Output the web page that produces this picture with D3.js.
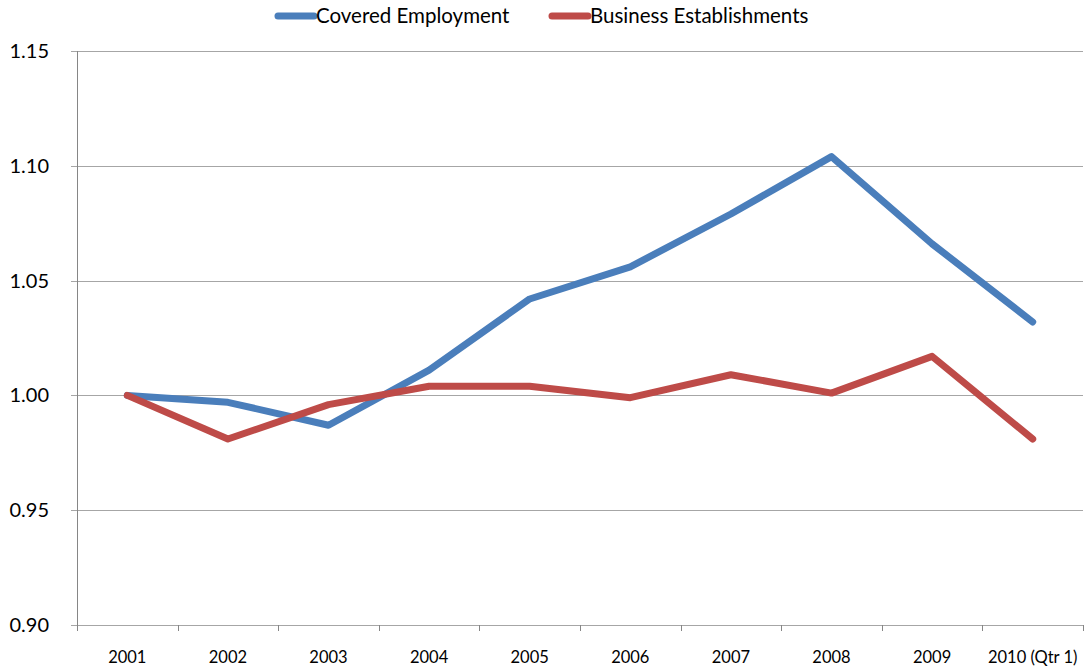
<!DOCTYPE html>
<html>
<head>
<meta charset="utf-8">
<script src="https://cdn.jsdelivr.net/npm/d3@7"></script>
<style>
  html, body { margin: 0; padding: 0; background: #fff; }
  svg text { font-family: Lato, "Open Sans", sans-serif; fill: #000; }
</style>
</head>
<body>
<svg id="chart" width="1084" height="668"></svg>
<script>
// Index values (2001 = 1.00)
const years = ["2001", "2002", "2003", "2004", "2005", "2006", "2007", "2008", "2009", "2010 (Qtr 1)"];
const coveredEmployment = [1.000, 0.997, 0.987, 1.011, 1.042, 1.056, 1.079, 1.104, 1.066, 1.032];
const businessEstablishments = [1.000, 0.981, 0.996, 1.004, 1.004, 0.999, 1.009, 1.001, 1.017, 0.981];
const yTicks = [0.90, 0.95, 1.00, 1.05, 1.10, 1.15];

const seriesNames = ["Covered Employment", "Business Establishments"];
const seriesColors = ["#4A7EBB", "#BE4B48"];

(function draw() {
  const svg = d3.select("#chart");
  const plotLeft = 77, plotRight = 1083, plotTop = 51, plotBottom = 625;

  const x = d3.scaleBand().domain(years).range([plotLeft, plotRight]).padding(0);
  const y = d3.scaleLinear().domain([0.90, 1.15]).range([plotBottom, plotTop]);

  // horizontal gridlines with short outward ticks
  svg.append("g")
    .selectAll("line")
    .data(yTicks)
    .join("line")
    .attr("x1", plotLeft - 6).attr("x2", plotRight)
    .attr("y1", d => Math.round(y(d)) + 0.5).attr("y2", d => Math.round(y(d)) + 0.5)
    .attr("stroke", "#A6A6A6").attr("stroke-width", 1);

  // y labels
  svg.append("g")
    .selectAll("text")
    .data(yTicks)
    .join("text")
    .attr("x", 49)
    .attr("y", d => y(d))
    .attr("dy", "0.35em")
    .attr("text-anchor", "end")
    .attr("font-size", 20)
    .text(d => d3.format(".2f")(d));

  // vertical axis line
  svg.append("line")
    .attr("x1", plotLeft + 0.5).attr("x2", plotLeft + 0.5)
    .attr("y1", plotTop).attr("y2", plotBottom)
    .attr("stroke", "#868686").attr("stroke-width", 1);

  // x axis: category boundary ticks
  const boundaries = years.map(d => x(d)).concat([plotRight]);
  svg.append("g")
    .selectAll("line")
    .data(boundaries)
    .join("line")
    .attr("x1", d => Math.round(d) + 0.5).attr("x2", d => Math.round(d) + 0.5)
    .attr("y1", plotBottom).attr("y2", plotBottom + 6)
    .attr("stroke", "#868686").attr("stroke-width", 1);

  svg.append("g")
    .selectAll("text")
    .data(years)
    .join("text")
    .attr("x", d => x(d) + x.bandwidth() / 2)
    .attr("y", 663)
    .attr("text-anchor", "middle")
    .attr("font-size", 16.5)
    .text(d => d);

  // series lines
  const line = d3.line()
    .x((d, i) => x(years[i]) + x.bandwidth() / 2)
    .y(d => y(d));

  [coveredEmployment, businessEstablishments].forEach((vals, k) => {
    svg.append("path")
      .datum(vals)
      .attr("d", line)
      .attr("fill", "none")
      .attr("stroke", seriesColors[k])
      .attr("stroke-width", 7)
      .attr("stroke-linejoin", "round")
      .attr("stroke-linecap", "round");
  });

  // legend
  const legendItems = [
    { name: seriesNames[0], color: seriesColors[0], x0: 278 },
    { name: seriesNames[1], color: seriesColors[1], x0: 552 }
  ];
  const lg = svg.append("g");
  legendItems.forEach(it => {
    lg.append("line")
      .attr("x1", it.x0).attr("x2", it.x0 + 36)
      .attr("y1", 16).attr("y2", 16)
      .attr("stroke", it.color).attr("stroke-width", 7)
      .attr("stroke-linecap", "round");
    lg.append("text")
      .attr("x", it.x0 + 38)
      .attr("y", 16)
      .attr("dy", "0.35em")
      .attr("font-size", 20.5)
      .text(it.name);
  });
})();
</script>
</body>
</html>
